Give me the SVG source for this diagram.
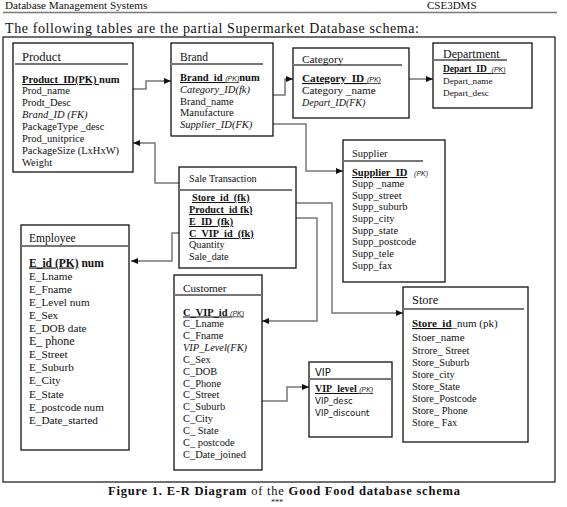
<svg xmlns="http://www.w3.org/2000/svg" width="567" height="507" viewBox="0 0 567 507">
<style>
text{font-family:"Liberation Serif","Times New Roman",serif;fill:#111}
.box{fill:#fff;stroke:#111;stroke-width:1.3}
.sep{stroke:#777;stroke-width:2}
.con{fill:none;stroke:#777;stroke-width:1.5}
.b{font-weight:bold}
.u{text-decoration:underline}
.i{font-style:italic}
.pk{font-family:"Liberation Sans",Arial,sans-serif;font-style:italic;font-weight:normal;font-size:7px}
.sans{font-family:"DejaVu Sans","Liberation Sans",sans-serif}
</style>
<defs>
<marker id="ah" markerWidth="8" markerHeight="8" refX="7" refY="4" orient="auto" markerUnits="userSpaceOnUse">
<path d="M0,1 L7,4 L0,7 Z" fill="#111"/>
</marker>
</defs>
<g id="header">
<text x="5" y="9" font-size="11.2">Database Management Systems</text>
<text x="427" y="9" font-size="11">CSE3DMS</text>
<line x1="3" y1="12.5" x2="557" y2="12.5" stroke="#777" stroke-width="1.5"/>
<text x="5" y="33" font-size="14" textLength="414" lengthAdjust="spacing">The following tables are the partial Supermarket Database schema:</text>
<rect x="3" y="37" width="552" height="445" fill="none" stroke="#111" stroke-width="1.2"/>
</g>
<g id="connectors">
<path class="con" d="M133,89 H146 V81 H171" marker-end="url(#ah)"/>
<path class="con" d="M273,95 H285 V79 H293" marker-end="url(#ah)"/>
<path class="con" d="M409,79 H433" marker-end="url(#ah)"/>
<path class="con" d="M273,124 H306 V171 H343" marker-end="url(#ah)"/>
<path class="con" d="M179,183 H155 V143 H133" marker-end="url(#ah)"/>
<path class="con" d="M179,233 H172 V261 H131" marker-end="url(#ah)"/>
<path class="con" d="M296,203 H332 V313 H403" marker-end="url(#ah)"/>
<path class="con" d="M296,218 H317 V321 H262" marker-end="url(#ah)"/>
<path class="con" d="M262,401 H287 V387 H309" marker-end="url(#ah)"/>
</g>
<g id="product">
<rect class="box" x="13" y="43" width="120" height="129"/>
<line class="sep" x1="15" y1="64" x2="128" y2="64"/>
<text x="22" y="61" font-size="12.5">Product</text>
<g font-size="10.5">
<text x="22" y="83" class="b"><tspan class="u">Product_ID(PK) </tspan>num</text>
<text x="22" y="94">Prod_name</text>
<text x="22" y="106">Prodt_Desc</text>
<text x="22" y="118" class="i">Brand_ID (FK)</text>
<text x="22" y="130">PackageType _desc</text>
<text x="22" y="142">Prod_unitprice</text>
<text x="22" y="154">PackageSize (LxHxW)</text>
<text x="22" y="166">Weight</text>
</g>
</g>
<g id="brand">
<rect class="box" x="171" y="43" width="102" height="93"/>
<line class="sep" x1="171" y1="64" x2="263" y2="64"/>
<text x="180" y="61" font-size="11.5">Brand</text>
<g font-size="10.5">
<text x="180" y="81" class="b"><tspan class="u">Brand_id <tspan class="pk">(PK)</tspan></tspan>num</text>
<text x="180" y="93" class="i">Category_ID(fk)</text>
<text x="180" y="105">Brand_name</text>
<text x="180" y="116">Manufacture</text>
<text x="180" y="128" class="i">Supplier_ID(FK)</text>
</g>
</g>
<g id="category">
<rect class="box" x="293" y="48" width="116" height="70"/>
<line class="sep" x1="293" y1="65" x2="402" y2="65"/>
<text x="302" y="63" font-size="11.3">Category</text>
<g font-size="11.2">
<text x="302" y="82" class="b u">Category_ID <tspan class="pk">(PK)</tspan></text>
<text x="302" y="94">Category _name</text>
<text x="302" y="106" class="i" font-size="10">Depart_ID(FK)</text>
</g>
</g>
<g id="department">
<rect class="box" x="433" y="43" width="99" height="65"/>
<line class="sep" x1="433" y1="60" x2="507" y2="60"/>
<text x="443" y="57.5" font-size="12">Department</text>
<g font-size="9.2">
<text x="443" y="72" class="b u" font-size="9.5">Depart_ID_<tspan class="pk">(PK)</tspan></text>
<text x="443" y="84">Depart_name</text>
<text x="443" y="96">Depart_desc</text>
</g>
</g>
<g id="supplier">
<rect class="box" x="343" y="140" width="102" height="142"/>
<line class="sep" x1="343" y1="161" x2="423" y2="161"/>
<text x="352" y="157" font-size="10.5">Supplier</text>
<g font-size="10.5">
<text x="352" y="176" class="b"><tspan class="u">Supplier_ID</tspan>  <tspan class="pk" dx="4">(PK)</tspan></text>
<text x="352" y="187">Supp _name</text>
<text x="352" y="199">Supp_street</text>
<text x="352" y="210">Supp_suburb</text>
<text x="352" y="222">Supp_city</text>
<text x="352" y="234">Supp_state</text>
<text x="352" y="245">Supp_postcode</text>
<text x="352" y="257">Supp_tele</text>
<text x="352" y="269">Supp_fax</text>
</g>
</g>
<g id="sale_transaction">
<rect class="box" x="179" y="167" width="117" height="101"/>
<line class="sep" x1="179" y1="190" x2="292" y2="190"/>
<text x="189" y="182" font-size="10.2">Sale Transaction</text>
<g font-size="10.2">
<text x="192" y="201" class="b u">Store_id_(fk)</text>
<text x="189" y="213" class="b u">Product_id fk)</text>
<text x="189" y="225" class="b u">E_ID_(fk)</text>
<text x="189" y="237" class="b u">C_VIP_id_(fk)</text>
<text x="189" y="248">Quantity</text>
<text x="189" y="260">Sale_date</text>
</g>
</g>
<g id="employee">
<rect class="box" x="21" y="225" width="108" height="225"/>
<line class="sep" x1="21" y1="246" x2="128" y2="246"/>
<text x="29" y="242" font-size="11.5">Employee</text>
<g font-size="11.2">
<text x="29" y="266.5" class="b" font-size="11.5"><tspan class="u">E_id (PK)</tspan> num</text>
<text x="29" y="279.6">E_Lname</text>
<text x="29" y="292.7">E_Fname</text>
<text x="29" y="305.8">E_Level  num</text>
<text x="29" y="318.9">E_Sex</text>
<text x="29" y="332">E_DOB date</text>
<text x="29" y="345.1" font-size="12">E_ phone</text>
<text x="29" y="358.2">E_Street</text>
<text x="29" y="371.3">E_Suburb</text>
<text x="29" y="384.4">E_City</text>
<text x="29" y="397.5">E_State</text>
<text x="29" y="410.6">E_postcode num</text>
<text x="29" y="423.7">E_Date_started</text>
</g>
</g>
<g id="customer">
<rect class="box" x="174" y="275" width="88" height="195"/>
<line class="sep" x1="174" y1="295" x2="262" y2="295"/>
<text x="183" y="292" font-size="11.2">Customer</text>
<g font-size="10.4">
<text x="183" y="315.5" class="b u">C_VIP_id <tspan class="pk">(PK)</tspan></text>
<text x="183" y="327.3">C_Lname</text>
<text x="183" y="339.2">C_Fname</text>
<text x="183" y="351" class="i">VIP_Level(FK)</text>
<text x="183" y="362.8">C_Sex</text>
<text x="183" y="374.7">C_DOB</text>
<text x="183" y="386.5">C_Phone</text>
<text x="183" y="398.3">C_Street</text>
<text x="183" y="410.2">C_Suburb</text>
<text x="183" y="422">C_City</text>
<text x="183" y="433.8">C_ State</text>
<text x="183" y="445.7">C_ postcode</text>
<text x="183" y="457.5">C_Date_joined</text>
</g>
</g>
<g id="vip">
<rect class="box" x="309" y="362" width="83" height="75"/>
<line class="sep" x1="309" y1="379" x2="392" y2="379"/>
<text x="315" y="376" font-size="10" class="sans">VIP</text>
<text x="315" y="392" font-size="10" class="b u">VIP_level <tspan class="pk">(PK)</tspan></text>
<text x="315" y="404" font-size="8.6" class="sans">VIP_desc</text>
<text x="315" y="416" font-size="8.6" class="sans">VIP_discount</text>
</g>
<g id="store">
<rect class="box" x="403" y="287" width="125" height="155"/>
<line class="sep" x1="403" y1="309" x2="524" y2="309"/>
<text x="412" y="304" font-size="12.4">Store</text>
<g font-size="10.4">
<text x="412" y="327" font-size="11"><tspan class="b u">Store_id</tspan>_num (pk)</text>
<text x="412" y="341" font-size="11">Stoer_name</text>
<text x="412" y="354">Strore_ Street</text>
<text x="412" y="366">Store_Suburb</text>
<text x="412" y="378">Store_city</text>
<text x="412" y="390">Store_State</text>
<text x="412" y="402">Store_Postcode</text>
<text x="412" y="414">Store_ Phone</text>
<text x="412" y="426">Store_ Fax</text>
</g>
</g>
<g id="caption">
<text x="108" y="495" font-size="12.5" textLength="352" lengthAdjust="spacing"><tspan class="b">Figure 1. E-R Diagram</tspan> of  the <tspan class="b">Good Food database schema</tspan></text>
<text x="277" y="505" font-size="8" text-anchor="middle">***</text>
</g>
</svg>
